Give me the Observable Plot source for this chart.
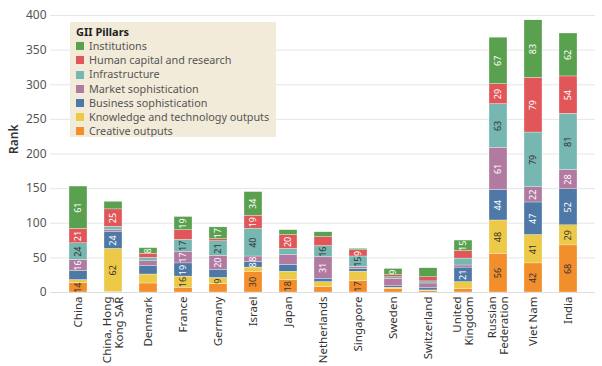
<!DOCTYPE html>
<html>
<head>
<meta charset="utf-8">
<script src="https://cdn.jsdelivr.net/npm/d3@7"></script>
<script src="https://cdn.jsdelivr.net/npm/@observablehq/plot@0.6"></script>
<style>
  html, body { margin: 0; padding: 0; background: #fff; }
  #wrap { position: relative; width: 602px; height: 366px; font-family: "Noto Sans", sans-serif; }
  #legend { position: absolute; left: 70px; top: 22px; width: 206px; height: 115px; background: #f2ebd9; overflow: hidden; white-space: nowrap; font-size: 10.8px; color: #555; }
  #legend .title { font-weight: bold; color: #222; margin: 3px 0 0 6px; line-height: 14px; font-size: 11px; }
  #legend .item { display: flex; align-items: center; line-height: 14.2px; margin-left: 6px; }
  #legend .sw { width: 8px; height: 8px; margin-right: 5px; flex: none; }
</style>
</head>
<body>
<div id="wrap"><div id="chart"></div><div id="legend"></div></div>
<script>
// Categories (x axis)
const countries = ["China","China, Hong Kong SAR","Denmark","France","Germany","Israel","Japan","Netherlands","Singapore","Sweden","Switzerland","United Kingdom","Russian Federation","Viet Nam","India"];
const tickLabels = ["China","China, Hong\nKong SAR","Denmark","France","Germany","Israel","Japan","Netherlands","Singapore","Sweden","Switzerland","United\nKingdom","Russian\nFederation","Viet Nam","India"];

// Pillars, legend order (top of stack first)
const legendOrder = ["Institutions","Human capital and research","Infrastructure","Market sophistication","Business sophistication","Knowledge and technology outputs","Creative outputs"];
const pillarColors = ["#59a14f","#e15759","#76b7b2","#b07aa1","#4e79a7","#edc948","#f28e2b"];

// Series values (rank per pillar), in country order
const institutions   = [61,11,8,19,17,34,7,7,2,9,13,15,67,83,62];
const humanCapital   = [21,25,6,14,3,19,20,13,9,3,6,11,29,79,54];
const infrastructure = [24,5,5,17,21,40,9,16,15,2,3,10,63,79,81];
const marketSoph     = [16,3,7,17,20,8,14,31,3,11,6,3,61,22,28];
const businessSoph   = [13,24,12,19,12,8,10,5,4,2,4,21,44,47,52];
const knowledgeTech  = [4,62,13,16,9,6,12,7,13,2,1,10,48,41,29];
const creative       = [14,1,13,7,12,30,18,8,17,5,2,5,56,42,68];

// Segments that carry a value label
const labeled = [
  ["China","Creative outputs"],["China","Market sophistication"],["China","Infrastructure"],["China","Human capital and research"],["China","Institutions"],
  ["China, Hong Kong SAR","Knowledge and technology outputs"],["China, Hong Kong SAR","Business sophistication"],["China, Hong Kong SAR","Human capital and research"],
  ["Denmark","Institutions"],
  ["France","Knowledge and technology outputs"],["France","Business sophistication"],["France","Market sophistication"],["France","Infrastructure"],["France","Institutions"],
  ["Germany","Knowledge and technology outputs"],["Germany","Market sophistication"],["Germany","Infrastructure"],["Germany","Institutions"],
  ["Israel","Creative outputs"],["Israel","Business sophistication"],["Israel","Market sophistication"],["Israel","Infrastructure"],["Israel","Human capital and research"],["Israel","Institutions"],
  ["Japan","Creative outputs"],["Japan","Human capital and research"],
  ["Netherlands","Market sophistication"],["Netherlands","Infrastructure"],
  ["Singapore","Creative outputs"],["Singapore","Infrastructure"],["Singapore","Human capital and research"],
  ["Sweden","Institutions"],
  ["United Kingdom","Business sophistication"],["United Kingdom","Institutions"],
  ...["Russian Federation","Viet Nam","India"].flatMap(c => legendOrder.map(p => [c, p]))
];

// Stack order bottom -> top
const series = [
  ["Creative outputs", creative],
  ["Knowledge and technology outputs", knowledgeTech],
  ["Business sophistication", businessSoph],
  ["Market sophistication", marketSoph],
  ["Infrastructure", infrastructure],
  ["Human capital and research", humanCapital],
  ["Institutions", institutions]
];
const labeledSet = new Set(labeled.map(([c, p]) => c + "|" + p));
const rows = series.flatMap(([pillar, vals]) => countries.map((c, i) => ({country: c, pillar, value: vals[i], labeled: labeledSet.has(c + "|" + pillar)})));
const darkText = new Set(["Infrastructure","Knowledge and technology outputs","Creative outputs"]);

const font = '"Noto Sans", sans-serif';
const plot = Plot.plot({
  width: 602,
  height: 366,
  marginTop: 15,
  marginBottom: 74,
  marginLeft: 50,
  marginRight: 7,
  style: {fontFamily: font, background: "transparent"},
  x: {domain: countries, padding: 0.49, label: null},
  y: {domain: [0, 400], label: null},
  color: {domain: legendOrder, range: pillarColors},
  marks: [
    Plot.gridY([0,50,100,150,200,250,300,350,400], {stroke: "#e6e6e6", strokeOpacity: 1}),
    Plot.axisY([0,50,100,150,200,250,300,350,400], {tickSize: 0, tickPadding: 4, fontSize: 12, fill: "#555", label: null}),
    Plot.axisX({tickSize: 0, tickPadding: 4, tickRotate: -90, fontSize: 11.5, fill: "#333", tickFormat: (d, i) => tickLabels[countries.indexOf(d)], label: null}),
    Plot.barY(rows, Plot.stackY({x: "country", y: "value", fill: "pillar", stroke: "#fff", strokeWidth: 0.3})),
    Plot.text(rows, Plot.stackY({x: "country", y: "value", text: d => d.labeled && !darkText.has(d.pillar) ? String(d.value) : "", rotate: -90, fill: "#fff", fontSize: 9})),
    Plot.text(rows, Plot.stackY({x: "country", y: "value", text: d => d.labeled && darkText.has(d.pillar) ? String(d.value) : "", rotate: -90, fill: "#333", fontSize: 9})),
    Plot.ruleY([0], {stroke: "#ddd"}),
    Plot.text(["Rank"], {frameAnchor: "left", dx: -36, rotate: -90, fontSize: 12, fontWeight: 600, fill: "#333"})
  ]
});
document.getElementById("chart").appendChild(plot);

// Legend
const lg = document.getElementById("legend");
lg.innerHTML = '<div class="title">GII Pillars</div>' + legendOrder.map((p, i) =>
  `<div class="item"><span class="sw" style="background:${pillarColors[i]}"></span>${p}</div>`).join("");
</script>
</body>
</html>
